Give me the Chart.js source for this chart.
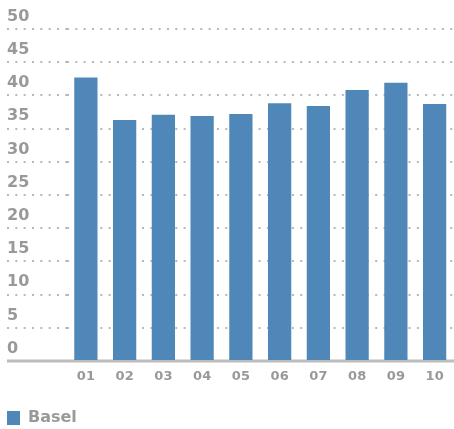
<!DOCTYPE html>
<html>
<head>
<meta charset="utf-8">
<script src="https://cdn.jsdelivr.net/npm/chart.js@4"></script>
<style>
  html, body { margin: 0; padding: 0; background: #fff; }
  #wrap { width: 454px; height: 429px; position: relative; }
</style>
</head>
<body>
<div id="wrap"><canvas id="chart"></canvas></div>
<script>
  // ------------------------
  // DATA
  // ------------------------
  const categories = ["01", "02", "03", "04", "05", "06", "07", "08", "09", "10"];
  const baselValues = [42.7, 36.3, 37.1, 36.9, 37.2, 38.8, 38.4, 40.8, 41.9, 38.7];
  const yTicks = [0, 5, 10, 15, 20, 25, 30, 35, 40, 45, 50];

  const barColor = "#5087b9";
  const textColor = "#999999";
  const dotColor = "#b8b8b8";
  const fontFamily = "DejaVu Sans";

  // solid base line running under the bars, from the y labels to the right edge
  const baseLine = {
    id: "baseLine",
    beforeDatasetsDraw(chart) {
      const { ctx, scales } = chart;
      const y = scales.y.getPixelForValue(0);
      ctx.save();
      ctx.strokeStyle = "#bdbdbd";
      ctx.lineWidth = 3;
      ctx.beginPath();
      ctx.moveTo(scales.y.left, y);
      ctx.lineTo(scales.x.right, y);
      ctx.stroke();
      ctx.restore();
    }
  };

  new Chart(document.getElementById("chart"), {
    type: "bar",
    data: {
      labels: categories,
      datasets: [
        { label: "Basel", data: baselValues, backgroundColor: barColor, barPercentage: 0.6, categoryPercentage: 1 }
      ]
    },
    options: {
      responsive: true,
      maintainAspectRatio: false,
      animation: false,
      // legend sits low, so the bottom padding goes negative
      layout: { padding: { left: 7, right: 0, top: 29, bottom: -7 } },
      plugins: {
        tooltip: { enabled: false },
        legend: {
          position: "bottom",
          align: "start",
          labels: {
            boxWidth: 13,
            boxHeight: 14,
            padding: 0,
            color: textColor,
            font: { family: fontFamily, weight: "bold", size: 16 }
          }
        }
      },
      scales: {
        x: {
          afterFit(scale) { scale.height = 49; },
          grid: { display: false },
          border: { display: false },
          ticks: { color: textColor, padding: 0, font: { family: fontFamily, weight: "bold", size: 13 } }
        },
        y: {
          min: 0,
          max: 50,
          // wide axis box: labels at the far left, dotted tick lines run through it
          afterFit(scale) { scale.width = 59.5; },
          afterBuildTicks(scale) { scale.ticks = yTicks.map(v => ({ value: v })); },
          grid: {
            color: dotColor,
            lineWidth: 2,
            drawTicks: true,
            tickLength: 59.5,
            tickColor: dotColor,
            tickWidth: 2,
            tickBorderDash: [2, 6.33]
          },
          border: { display: false, dash: [2, 6.33] },
          ticks: {
            crossAlign: "far",
            labelOffset: -12.3,
            color: textColor,
            font: { family: fontFamily, weight: "bold", size: 16 }
          }
        }
      }
    },
    plugins: [baseLine]
  });
</script>
</body>
</html>
